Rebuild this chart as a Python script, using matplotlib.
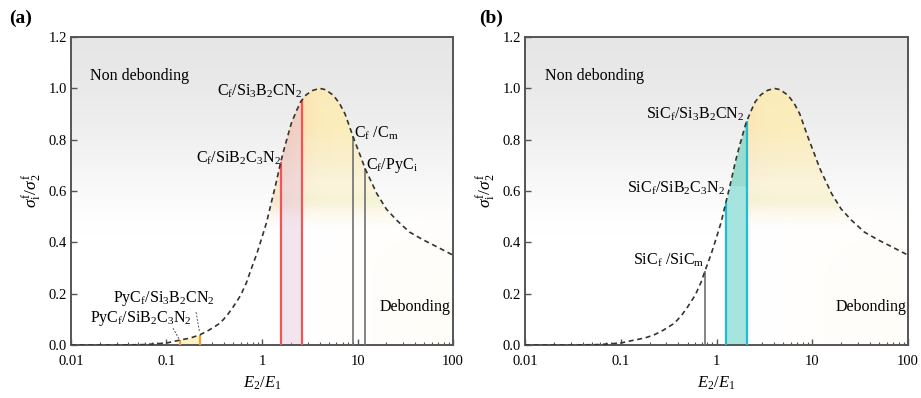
import matplotlib.pyplot as plt
import numpy as np
from matplotlib.patches import Polygon
from matplotlib.ticker import FixedLocator, LogLocator, NullFormatter

plt.rcParams['font.family'] = ['Liberation Serif', 'DejaVu Serif']
plt.rcParams['mathtext.fontset'] = 'custom'
plt.rcParams['mathtext.rm'] = 'Liberation Serif'
plt.rcParams['mathtext.it'] = 'Liberation Serif:italic'

# dashed criterion curve (E2/E1 vs stress ratio)
ratio = [0.01, 0.03, 0.06, 0.1, 0.133, 0.18, 0.224, 0.278, 0.363, 0.43,
         0.5, 0.6, 0.69, 0.76, 0.88, 1.0, 1.12, 1.26, 1.37, 1.57,
         1.72, 1.89, 2.03, 2.31, 2.54, 2.9, 3.4, 4.0, 4.6, 5.58,
         6.5, 7.4, 9.0, 10.5, 12.0, 15.9, 20, 25.7, 35, 49, 70, 100]
strength = [0.0, 0.0, 0.002, 0.008, 0.018, 0.028, 0.040, 0.058, 0.085, 0.115,
            0.149, 0.195, 0.245, 0.29, 0.355, 0.42, 0.48, 0.56, 0.615, 0.713,
            0.77, 0.824, 0.865, 0.915, 0.948, 0.975, 0.992, 1.0, 0.995, 0.973,
            0.94, 0.90, 0.81, 0.745, 0.687, 0.59, 0.53, 0.486, 0.44, 0.409, 0.38, 0.35]

# panel (a) interfaces
a_red = [1.57, 2.6]
a_orange = [0.138, 0.224]
a_gray = [8.9, 11.9]
# panel (b) interfaces
b_cyan = [1.25, 2.07]
b_gray = [0.76]

xticks = [0.01, 0.1, 1, 10, 100]
xticklabels = ['0.01', '0.1', '1', '10', '100']
yticks = [0.0, 0.2, 0.4, 0.6, 0.8, 1.0, 1.2]


def curve_at(x):
    return np.interp(np.log10(x), np.log10(ratio), strength)


def segment(x0, x1):
    xs = [x0] + [r for r in ratio if x0 < r < x1] + [x1]
    return np.array(xs), curve_at(np.array(xs))


def smooth(t):
    t = np.clip(t, 0, 1)
    return t * t * (3 - 2 * t)


def backdrop(ax, orange):
    fy = np.linspace(0, 1, 240)[:, None]
    fx = np.linspace(0, 1, 320)[None, :]
    # grey fading down to white
    g = 1 - 0.095 * smooth((fy - 0.36) / 0.64) ** 0.7
    rgb = np.ones((240, 320, 3)) * g[:, :, None]
    # faint warm tint lower right
    w = smooth((fx - 0.55) / 0.45) * smooth((0.55 - fy) / 0.35) * 0.5
    rgb[:, :, 2] -= 0.05 * w
    rgb[:, :, 1] -= 0.015 * w
    ax.imshow(rgb, extent=[0, 1, 0, 1], transform=ax.transAxes, origin='lower',
              aspect='auto', zorder=0, interpolation='bilinear')

    # warm colouring under the curve
    lx = -2 + 4 * fx
    yv = 1.2 * fy
    rgba = np.zeros((240, 320, 4))
    yellow = np.array([1.0, 0.93, 0.70])
    orng = np.array([0.99, 0.80, 0.62])
    wo = np.exp(-((lx - 0.22) / 0.22) ** 2) * orange
    wo = np.broadcast_to(wo, (240, 320))
    col = yellow[None, None, :] * (1 - wo[:, :, None]) + orng[None, None, :] * wo[:, :, None]
    a = np.clip((yv - 0.45) / 0.4, 0, 1) ** 0.9 * 0.85
    a = np.broadcast_to(a, (240, 320))
    green = np.exp(-((yv - 0.56) / 0.04) ** 2) * 0.25
    green = np.broadcast_to(green, (240, 320))
    col = col * (1 - green[:, :, None]) + np.array([0.80, 0.93, 0.75]) * green[:, :, None]
    rgba[:, :, :3] = col
    rgba[:, :, 3] = np.clip(a + green, 0, 1)
    im = ax.imshow(rgba, extent=[0, 1, 0, 1], transform=ax.transAxes, origin='lower',
                   aspect='auto', zorder=1, interpolation='bilinear')
    verts = np.column_stack([ratio + [ratio[-1], ratio[0]], strength + [0, 0]])
    im.set_clip_path(Polygon(verts, closed=True, transform=ax.transData))


def style(ax):
    ax.set_xscale('log')
    ax.set_xlim(0.01, 100)
    ax.set_ylim(0, 1.2)
    ax.xaxis.set_major_locator(FixedLocator(xticks))
    ax.set_xticklabels(xticklabels)
    ax.xaxis.set_minor_locator(LogLocator(base=10, subs=np.arange(2, 10)))
    ax.xaxis.set_minor_formatter(NullFormatter())
    ax.set_yticks(yticks)
    ax.set_yticklabels(['%.1f' % t for t in yticks])
    ax.tick_params(axis='both', which='major', direction='in', length=4, width=1,
                   labelsize=10.5, color='#555555', pad=3)
    ax.tick_params(axis='x', which='major', pad=7)
    ax.tick_params(axis='x', which='minor', direction='in', length=2.5, width=0.8, color='#555555')
    for s in ax.spines.values():
        s.set_color('#555555')
        s.set_linewidth(1.4)
    ax.set_xlabel('$E_2/E_1$', fontsize=12, labelpad=5)
    ax.set_ylabel(r'$\sigma_\mathrm{i}^\mathrm{f}/\sigma_2^\mathrm{f}$', fontsize=12.5, labelpad=4)
    ax.plot(ratio, strength, color='#333333', lw=1.2, dashes=(3, 2.2), zorder=5)


fig = plt.figure(figsize=(9.21, 3.98), dpi=100)
axa = fig.add_axes([0.077, 0.133, 0.415, 0.774])
axb = fig.add_axes([0.570, 0.133, 0.416, 0.774])

# ---- panel (a)
backdrop(axa, 1.0)
xs, ys = segment(a_red[0], a_red[1])
axa.fill_between(xs, 0, ys, color=(0.90, 0.78, 0.86), alpha=0.45, lw=0, zorder=2)
xs, ys = segment(a_orange[0], a_orange[1])
axa.fill_between(xs, 0, ys, color='#fdf2c0', lw=0, zorder=2)
for x in a_red:
    axa.vlines(x, 0, curve_at(x), color='#f25555', lw=1.6, zorder=4)
for x in a_orange:
    axa.vlines(x, 0, curve_at(x), color='#f5a030', lw=1.6, zorder=4)
for x in a_gray:
    axa.vlines(x, 0, curve_at(x), color='#707070', lw=1.2, zorder=4)
style(axa)

axa.text(0.0158, 1.05, 'Non debonding', fontsize=11.5, va='center')
axa.text(2.62, 0.99, r'C$_\mathrm{f}$/Si$_3$B$_2$CN$_2$', fontsize=11.5, ha='right', va='center')
axa.text(1.57, 0.727, r'C$_\mathrm{f}$/SiB$_2$C$_3$N$_2$', fontsize=11.5, ha='right', va='center')
axa.text(9.1, 0.825, r'C$_\mathrm{f}$ /C$_\mathrm{m}$', fontsize=11.5, ha='left', va='center')
axa.text(12.2, 0.70, r'C$_\mathrm{f}$/PyC$_\mathrm{i}$', fontsize=11.5, ha='left', va='center')
axa.text(93, 0.148, 'Debonding', fontsize=11.5, ha='right', va='center')
axa.text(0.0276, 0.183, r'PyC$_\mathrm{f}$/Si$_3$B$_2$CN$_2$', fontsize=11.5, va='center')
axa.text(0.0158, 0.105, r'PyC$_\mathrm{f}$/SiB$_2$C$_3$N$_2$', fontsize=11.5, va='center')
axa.plot([0.204, 0.222], [0.128, 0.05], color='#555555', lw=0.7, dashes=(2, 1.5), zorder=6)
axa.plot([0.117, 0.137], [0.066, 0.02], color='#555555', lw=0.7, dashes=(2, 1.5), zorder=6)

# ---- panel (b)
backdrop(axb, 0.3)
xs, ys = segment(b_cyan[0], b_cyan[1])
axb.fill_between(xs, 0, ys, color='#a6e4e0', lw=0, zorder=2)
axb.fill_between(xs, 0.62, np.maximum(ys, 0.62), color='#90d8c4', lw=0, alpha=0.6, zorder=2)
for x in b_cyan:
    axb.vlines(x, 0, curve_at(x), color='#20bcd0', lw=1.6, zorder=4)
for x in b_gray:
    axb.vlines(x, 0, curve_at(x), color='#707070', lw=1.2, zorder=4)
style(axb)

axb.text(0.0162, 1.05, 'Non debonding', fontsize=11.5, va='center')
axb.text(1.95, 0.90, r'SiC$_\mathrm{f}$/Si$_3$B$_2$CN$_2$', fontsize=11.5, ha='right', va='center')
axb.text(1.23, 0.61, r'SiC$_\mathrm{f}$/SiB$_2$C$_3$N$_2$', fontsize=11.5, ha='right', va='center')
axb.text(0.74, 0.33, r'SiC$_\mathrm{f}$ /SiC$_\mathrm{m}$', fontsize=11.5, ha='right', va='center')
axb.text(95, 0.149, 'Debonding', fontsize=11.5, ha='right', va='center')

fig.text(0.010, 0.955, '(a)', fontsize=14, fontweight='bold', va='center')
fig.text(0.520, 0.955, '(b)', fontsize=14, fontweight='bold', va='center')

fig.savefig('out.png', dpi=100)
